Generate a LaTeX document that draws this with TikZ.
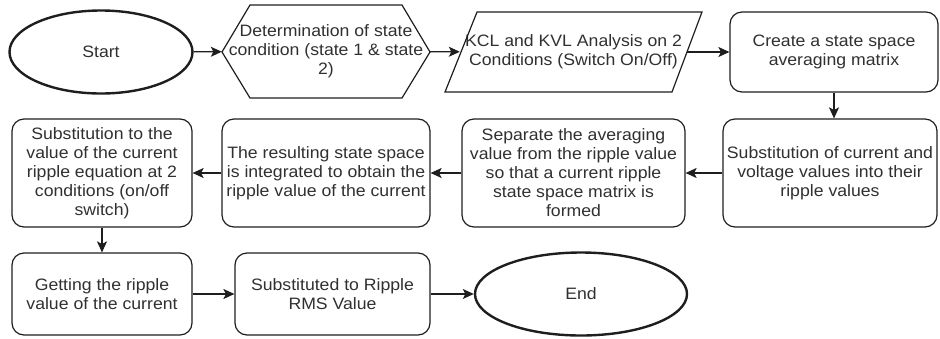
\documentclass[tikz,border=0pt]{standalone}
\usepackage{fontspec}
\setmainfont[FakeStretch=1.07]{Liberation Sans}
\usetikzlibrary{shapes.geometric,arrows.meta}

\definecolor{ink}{HTML}{1E1E1E}
\definecolor{txt}{HTML}{303030}

\begin{document}
\begin{tikzpicture}[x=1pt,y=-1pt,
  every node/.style={font=\fontsize{16.5}{19}\selectfont, text=txt, align=center, inner sep=0pt},
  terminal/.style={ellipse, draw=ink, line width=2.4pt, minimum width=#1, minimum height=83pt},
  procbox/.style={draw=ink, line width=1.2pt, rounded corners=12pt, minimum height=#1},
  shapeline/.style={draw=ink, line width=1.2pt, line join=miter},
  flow/.style={draw=ink, line width=1.1pt, -{Stealth[length=11pt, width=10pt, inset=2.5pt]}}
]
\useasboundingbox (0,0) rectangle (940,338);

% ---- top row ----
\node[terminal=183pt] (start) at (101,52) {Start};

% hexagon: preparation step
\node[minimum width=208pt, minimum height=93pt] (state) at (326,51.5)
  {Determination of state\\condition (state 1 \& state\\2)};
\path[shapeline] (222,52) -- (250,5) -- (402,5) -- (430,52) -- (402,98) -- (250,98) -- cycle;

% parallelogram: input/analysis step
\node[minimum width=227pt, minimum height=80pt] (kcl) at (573.5,52)
  {KCL and KVL Analysis on 2\\Conditions (Switch On/Off)};
\path[shapeline] (445,92) -- (477,12) -- (702,12) -- (672,92) -- cycle;

\node[procbox=80pt, minimum width=208pt] (avg) at (834,52)
  {Create a state space\\averaging matrix};

% ---- middle row ----
\node[procbox=108pt, minimum width=214pt] (subst) at (830,173)
  {Substitution of current and\\voltage values into their\\ripple values};
\node[procbox=108pt, minimum width=223pt] (sep) at (573.5,173)
  {Separate the averaging\\value from the ripple value\\so that a current ripple\\state space matrix is\\formed};
\node[procbox=108pt, minimum width=208pt] (integ) at (326,173)
  {The resulting state space\\is integrated to obtain the\\ripple value of the current};
\node[procbox=108pt, minimum width=180pt] (ripeq) at (102,173)
  {Substitution to the\\value of the current\\ripple equation at 2\\conditions (on/off\\switch)};

% ---- bottom row ----
\node[procbox=82pt, minimum width=180pt] (getrip) at (102,294)
  {Getting the ripple\\value of the current};
\node[procbox=82pt, minimum width=195pt] (rms) at (332.5,294)
  {Substituted to Ripple\\RMS Value};
\node[terminal=212pt] (finish) at (581,294) {End};

% ---- connectors ----
\draw[flow] (start) -- (state);
\draw[flow] (state) -- (kcl);
\draw[flow] (kcl) -- (avg);
\draw[flow] (avg) -- (avg |- subst.north);
\draw[flow] (subst) -- (sep);
\draw[flow] (sep) -- (integ);
\draw[flow] (integ) -- (ripeq);
\draw[flow] (ripeq) -- (getrip);
\draw[flow] (getrip) -- (rms);
\draw[flow] (rms) -- (finish);
\end{tikzpicture}
\end{document}
